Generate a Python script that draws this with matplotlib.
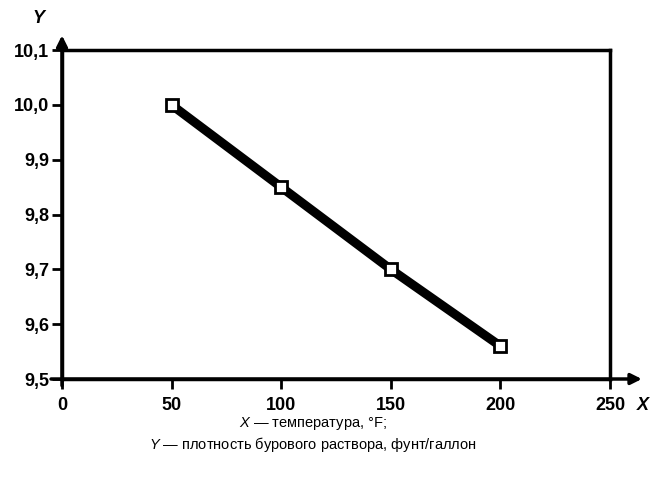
import matplotlib
matplotlib.use('Agg')
import matplotlib.pyplot as plt

# данные графика
temperature = [50, 100, 150, 200]
density = [10.0, 9.85, 9.70, 9.56]
x_ticks = [0, 50, 100, 150, 200, 250]
y_ticks = [9.5, 9.6, 9.7, 9.8, 9.9, 10.0, 10.1]
y_tick_labels = ['9,5', '9,6', '9,7', '9,8', '9,9', '10,0', '10,1']
caption_x = r'$X$ — температура, °F;'
caption_y = r'$Y$ — плотность бурового раствора, фунт/галлон'

plt.rcParams['font.family'] = ['Liberation Sans', 'DejaVu Sans']
plt.rcParams['mathtext.fontset'] = 'custom'
plt.rcParams['mathtext.it'] = 'Liberation Sans:italic'

fig = plt.figure(figsize=(6.54, 4.78), dpi=100)
ax = fig.add_axes([0.0948, 0.2071, 0.838, 0.688])

ax.plot(temperature, density, color='black', lw=6.5, solid_capstyle='butt', zorder=2)
ax.plot(temperature, density, ls='none', marker='s', ms=9, mfc='white', mec='black', mew=2, zorder=3)

ax.set_xlim(0, 250)
ax.set_ylim(9.5, 10.1)
ax.set_xticks(x_ticks)
ax.set_xticklabels([str(t) for t in x_ticks])
ax.set_yticks(y_ticks)
ax.set_yticklabels(y_tick_labels)
ax.tick_params(direction='out', length=7, width=2, labelsize=13, pad=2)
ax.tick_params(axis='x', pad=6)
for lab in ax.get_xticklabels() + ax.get_yticklabels():
    lab.set_fontweight('bold')

for s in ax.spines.values():
    s.set_linewidth(2.5)

# стрелки осей
ax.annotate('', xy=(1.058, 0), xytext=(-0.02, 0), xycoords='axes fraction',
            arrowprops=dict(arrowstyle='-|>', lw=2.5, color='black', mutation_scale=16,
                            shrinkA=0, shrinkB=0))
ax.annotate('', xy=(0, 1.045), xytext=(0, -0.02), xycoords='axes fraction',
            arrowprops=dict(arrowstyle='-|>', lw=2.5, color='black', mutation_scale=16,
                            shrinkA=0, shrinkB=0))
ax.text(1.06, -0.08, 'X', transform=ax.transAxes, fontsize=13, fontweight='bold',
        style='italic', ha='center', va='center')
ax.text(-0.043, 1.095, 'Y', transform=ax.transAxes, fontsize=13, fontweight='bold',
        style='italic', ha='center', va='center')

fig.text(0.479, 0.113, caption_x, ha='center', va='center', fontsize=10.5)
fig.text(0.479, 0.071, caption_y, ha='center', va='center', fontsize=10.5)

plt.savefig('out.png', dpi=100)
plt.close()
